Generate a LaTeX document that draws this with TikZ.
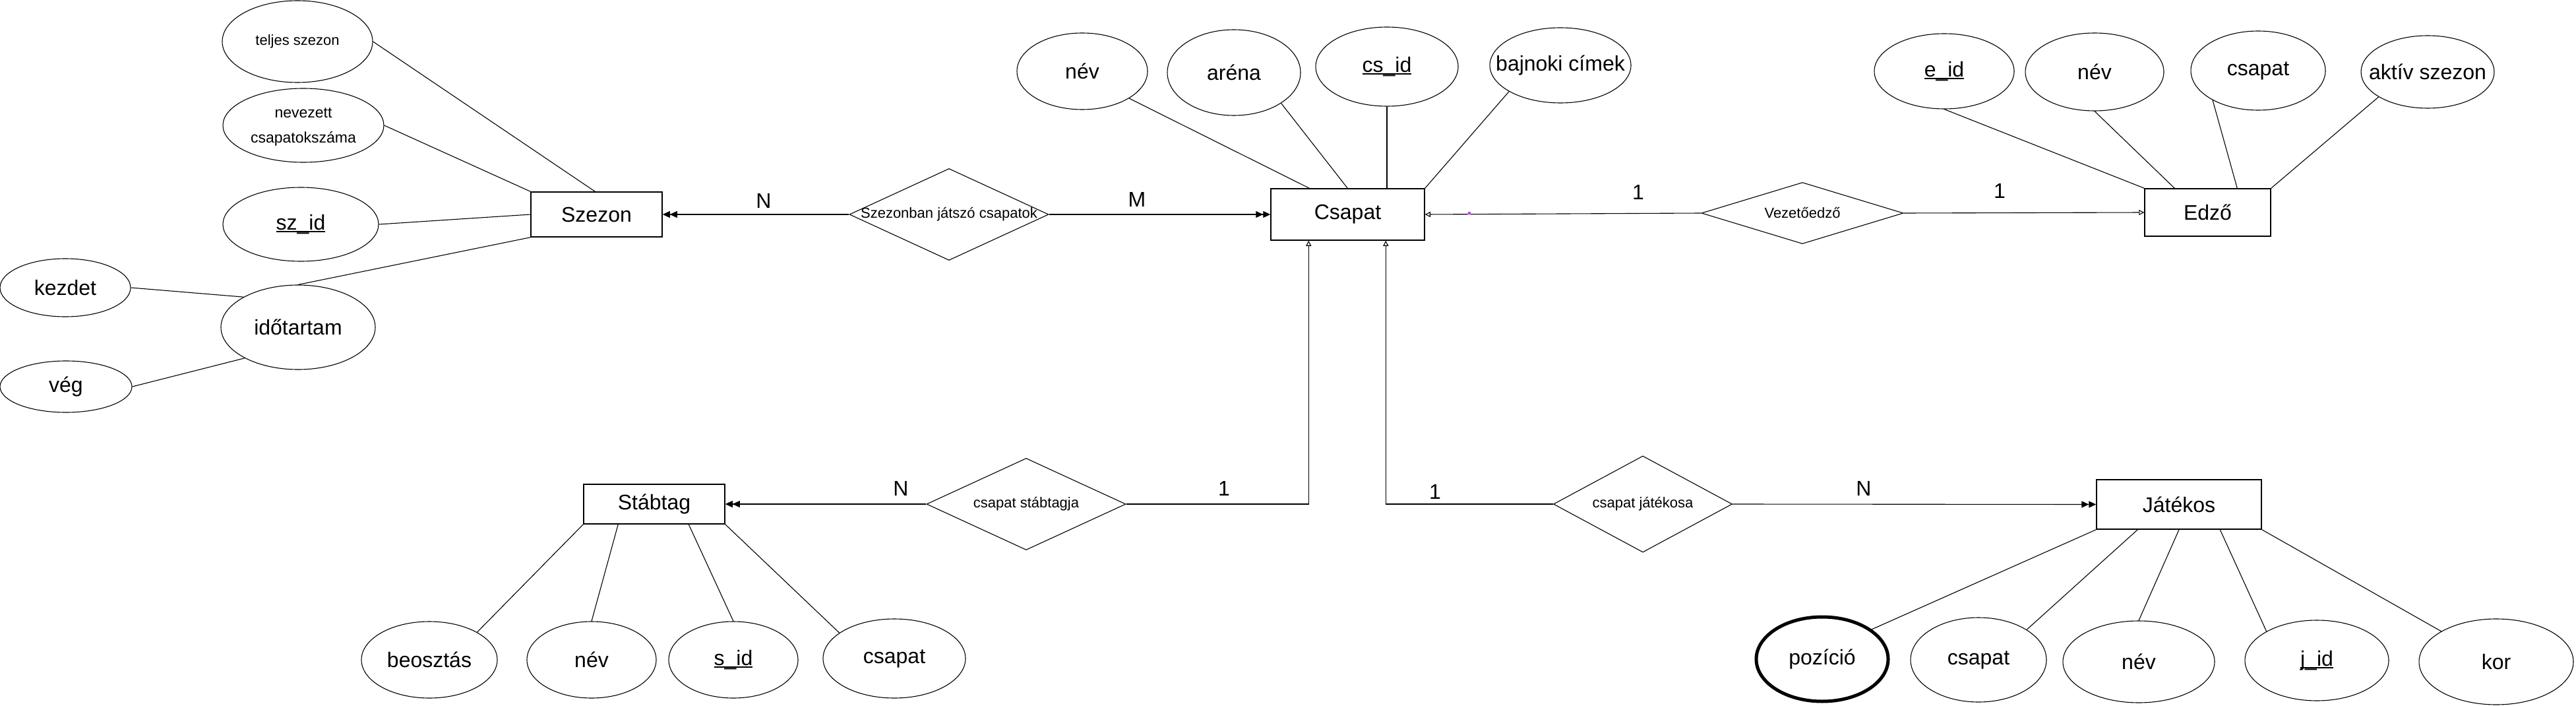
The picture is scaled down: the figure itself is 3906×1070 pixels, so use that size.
\documentclass[tikz,border=0pt]{standalone}
\usepackage{fontspec}
\setmainfont{Liberation Sans}
\usetikzlibrary{shapes.geometric,arrows.meta}
\newcommand\zb[1]{\makebox[0pt]{#1}}
\newcommand\ulk[1]{\setbox0\hbox{#1}\rlap{\rule[-4pt]{\wd0}{2.2pt}}\box0}
\definecolor{dotc}{RGB}{190,60,255}
\begin{document}
\begin{tikzpicture}[x=1pt,y=-1pt,
  big/.style={font=\fontsize{32}{38}\selectfont},
  small/.style={font=\fontsize{22}{27}\selectfont},
  ent/.style={draw, line width=1.5pt, rectangle, inner sep=0pt, big},
  attr/.style={draw, ellipse, line width=1.1pt, inner sep=0pt, big},
  rel/.style={draw, diamond, line width=1.1pt, inner sep=0pt, small},
  ln/.style={line width=1.1pt},
  dbl/.style={ln, -{Triangle[length=11pt,width=10pt]Triangle[length=11pt,width=10pt]}},
  opn/.style={ln, -{Triangle[open,length=8pt,width=8pt,fill=white]}},
  card/.style={big, inner sep=0pt}
]
\fill[white] (0,0) rectangle (3906,1070);
\useasboundingbox (0,0) rectangle (3906,1070);

% entities
\node[ent, minimum width=199pt, minimum height=68pt] (szezon) at (904.5,325) {\zb{Szezon}};
\node[ent, minimum width=233pt, minimum height=78pt] (csapat) at (2043.5,325) {\zb{Csapat}};
\node[ent, minimum width=191pt, minimum height=72pt] (edzo) at (3347.5,322) {\zb{Edző}};
\node[ent, minimum width=214pt, minimum height=60pt] (stab) at (992,764) {\zb{Stábtag}};
\node[ent, minimum width=250pt, minimum height=75pt] (jat) at (3304,764.5) {\zb{Játékos}};

% relationships
\node[rel, minimum width=302pt, minimum height=139pt] (szjcs) at (1439,325) {\zb{Szezonban játszó csapatok}};
\node[rel, minimum width=306pt, minimum height=93pt] (vez) at (2733,323) {\zb{Vezetőedző}};
\node[rel, minimum width=302pt, minimum height=139pt] (cst) at (1556,764) {\zb{csapat stábtagja}};
\node[rel, minimum width=271pt, minimum height=146pt] (cj) at (2491,764) {\zb{csapat játékosa}};

% Szezon attributes
\node[attr, small, minimum width=228pt, minimum height=124pt] (tsz) at (451,63) {\zb{teljes szezon}};
\node[attr, minimum width=244pt, minimum height=112pt, font=\fontsize{23}{38}\selectfont] (ncs) at (460,190) {\zb{\begin{tabular}{@{}c@{}}nevezett\\csapatokszáma\end{tabular}}};
\node[attr, minimum width=236pt, minimum height=112pt] (szid) at (456,340) {\zb{\ulk{sz\_id}}};
\node[attr, minimum width=198pt, minimum height=88pt] (kezdet) at (99,436) {\zb{kezdet}};
\node[attr, minimum width=234pt, minimum height=128pt] (ido) at (452,496) {\zb{időtartam}};
\node[attr, minimum width=200pt, minimum height=78pt] (veg) at (100,586) {\zb{vég}};

% Csapat attributes
\node[attr, minimum width=198pt, minimum height=116pt] (nev1) at (1641,108) {\zb{név}};
\node[attr, minimum width=202pt, minimum height=130pt] (arena) at (1871,110) {\zb{aréna}};
\node[attr, minimum width=216pt, minimum height=120pt] (csid) at (2103,101) {\zb{\ulk{cs\_id}}};
\node[attr, minimum width=214pt, minimum height=114pt] (baj) at (2366,99) {\zb{bajnoki címek}};

% Edzo attributes
\node[attr, minimum width=212pt, minimum height=114pt] (eid) at (2948,108) {\zb{\ulk{e\_id}}};
\node[attr, minimum width=210pt, minimum height=118pt] (nev2) at (3176,109) {\zb{név}};
\node[attr, minimum width=204pt, minimum height=120pt] (csap2) at (3424,107) {\zb{csapat}};
\node[attr, minimum width=202pt, minimum height=110pt] (aktiv) at (3681,109) {\zb{aktív szezon}};

% Stabtag attributes
\node[attr, minimum width=206pt, minimum height=116pt] (beo) at (651,1000) {\zb{beosztás}};
\node[attr, minimum width=196pt, minimum height=116pt] (nev3) at (897,1000) {\zb{név}};
\node[attr, minimum width=196pt, minimum height=116pt] (sid) at (1112,1000) {\zb{\ulk{s\_id}}};
\node[attr, minimum width=216pt, minimum height=120pt] (csap3) at (1356,998) {\zb{csapat}};

% Jatekos attributes
\node[attr, line width=5pt, minimum width=200pt, minimum height=128pt] (poz) at (2763,999) {\zb{pozíció}};
\node[attr, minimum width=206pt, minimum height=128pt] (csap4) at (3000,1000) {\zb{csapat}};
\node[attr, minimum width=230pt, minimum height=124pt] (nev4) at (3243,1003) {\zb{név}};
\node[attr, minimum width=218pt, minimum height=122pt] (jid) at (3513,1001) {\zb{\ulk{j\_id}}};
\node[attr, minimum width=234pt, minimum height=130pt] (kor) at (3785,1003) {\zb{kor}};

% attribute connectors
\draw[ln] (tsz.east) -- ([xshift=98pt]szezon.north west);
\draw[ln] (ncs.east) -- (szezon.north west);
\draw[ln] (szid.east) -- (szezon.west);
\draw[ln] (ido.north) -- (szezon.south west);
\draw[ln] (kezdet.east) -- (ido.151);
\draw[ln] (veg.east) -- (ido.210);

\draw[ln] (nev1.-30) -- ([xshift=59pt]csapat.north west);
\draw[ln] (arena.-33) -- ([xshift=117pt]csapat.north west);
\draw[ln] (csid.south) -- (csid.south |- csapat.north);
\draw[ln] (baj.207) -- (csapat.north east);

\draw[ln] (eid.south) -- (edzo.north west);
\draw[ln] (nev2.south) -- ([xshift=46pt]edzo.north west);
\draw[ln] (csap2.213) -- ([xshift=141pt]edzo.north west);
\draw[ln] (aktiv.207) -- (edzo.north east);

\draw[ln] (beo.30) -- (stab.south west);
\draw[ln] (nev3.north) -- ([xshift=53pt]stab.south west);
\draw[ln] (sid.north) -- ([xshift=160pt]stab.south west);
\draw[ln] (csap3.155) -- (stab.south east);

\draw[ln] (poz.31) -- (jat.south west);
\draw[ln] (csap4.32) -- ([xshift=63pt]jat.south west);
\draw[ln] (nev4.north) -- (jat.south);
\draw[ln] (jid.150) -- ([xshift=188pt]jat.south west);
\draw[ln] (kor.151) -- (jat.south east);

% relationship connectors
\draw[dbl] (szjcs.west) -- (szezon.east);
\draw[dbl] (szjcs.east) -- (csapat.west);
\draw[opn] (vez.west) -- (csapat.east);
\draw[opn] (vez.east) -- (edzo.west);
\draw[dbl] (cst.west) -- (stab.east);
\draw[opn] (cst.east) -| ([xshift=58pt]csapat.south west);
\draw[dbl] (cj.east) -- (jat.west);
\draw[opn] (cj.west) -| ([xshift=175pt]csapat.south west);

\fill[dotc] (2226,321) rectangle (2230,325);

% cardinalities
\node[card] (c1) at (1158,304) {N};
\node[card] (c2) at (1724,302) {M};
\node[card] (c3) at (2484,291) {1};
\node[card] (c4) at (3032,289) {1};
\node[card] (c5) at (1366,740) {N};
\node[card] (c6) at (1856,740) {1};
\node[card] (c7) at (2176,745) {1};
\node[card] (c8) at (2826,740) {N};
\end{tikzpicture}
\end{document}
